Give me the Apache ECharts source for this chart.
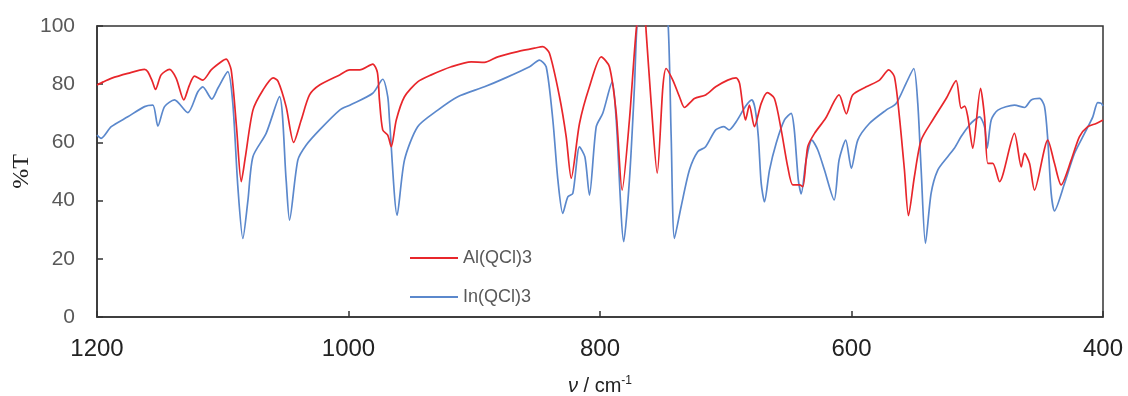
<!DOCTYPE html>
<html>
<head>
<meta charset="utf-8">
<script src="https://cdn.jsdelivr.net/npm/echarts@6/dist/echarts.min.js"></script>
<style>
  html, body { margin: 0; padding: 0; background: #fff; }
  #chart { width: 1128px; height: 396px; }
</style>
</head>
<body>
<div id="chart"></div>
<script>
// IR spectra (transmittance vs wavenumber) of Al(QCl)3 and In(QCl)3
const seriesNames = ['Al(QCl)3', 'In(QCl)3'];

const alWavenumber = [1200, 1195, 1188.7, 1175.5, 1162.2, 1159.6, 1156, 1153.5, 1149, 1142.4, 1137, 1131, 1126.5, 1122.5, 1115.9, 1109.2, 1101.2, 1097.3, 1093.3, 1089, 1085.3, 1082, 1076, 1068, 1060, 1056, 1049.6, 1043.6, 1037.6, 1031, 1023, 1007, 999, 991, 980.7, 977, 975.4, 972.8, 968.8, 966, 962, 955.5, 945, 934.2, 918.3, 902.4, 891.9, 881.3, 865.4, 852, 845.5, 840.2, 832.2, 826.9, 822.9, 816.3, 808.4, 799, 792.5, 787.1, 782.4, 776.6, 771.2, 768, 765, 763.3, 759.3, 754.5, 750, 747.4, 742.1, 736.8, 732.8, 724.9, 716, 708, 698.4, 691.7, 689, 686.4, 684.3, 681.2, 677.2, 671.8, 667, 661.3, 655.9, 650.7, 646.7, 641.4, 638.7, 634.8, 629.4, 620.6, 609.9, 604.1, 599.1, 588.3, 577.7, 570.4, 565.9, 561.9, 557.9, 554.7, 550, 544.6, 535.4, 524.7, 516.8, 512.8, 510, 507.5, 503.6, 497.4, 494.2, 491.6, 487.6, 482.3, 470.4, 465, 462.4, 458.4, 454.5, 443.9, 438.6, 433.3, 425.3, 418.7, 412.1, 405.4, 400];
const alTransmittance = [79.7, 80.8, 82, 83.7, 85.1, 84.3, 81, 78.2, 83.2, 85.1, 82, 74.6, 79.7, 82.8, 81.4, 84.9, 87.7, 88.6, 84.9, 65, 46.5, 55, 71.1, 78, 82.2, 81, 72.3, 60, 67.7, 76.3, 79.7, 83.2, 84.9, 84.9, 86.9, 84, 74.6, 64.3, 62.5, 58.5, 67.7, 75.7, 80.8, 83.2, 86, 87.7, 87.5, 89.4, 91.2, 92.4, 92.9, 90.6, 75.7, 62, 47.7, 66.5, 79.1, 89.4, 86, 70, 43.6, 67.7, 98.6, 106, 106, 98, 73.4, 49.4, 79.1, 85.4, 81.4, 75.7, 72, 75.1, 76.3, 79.1, 81.4, 82.2, 80.3, 72.3, 67.7, 72.8, 65.4, 73.4, 77.1, 75.1, 64.3, 51.6, 45.4, 45.4, 44.8, 58.5, 63.1, 68.3, 76.3, 69.8, 76.3, 79.1, 81.4, 84.9, 82.6, 68.8, 50.5, 34.8, 48.2, 60.8, 67.7, 75.1, 81.2, 71.7, 72.5, 68.8, 58, 78.6, 68.8, 52.8, 52.8, 46.5, 63.1, 51.6, 56.2, 52.8, 43.6, 60.8, 52.8, 45.4, 53.9, 62, 65.4, 66.5, 67.7];

const inWavenumber = [1200, 1196.7, 1188.7, 1175.5, 1162.2, 1155.6, 1151.6, 1146.3, 1138.4, 1127.8, 1119.8, 1115.9, 1108.7, 1103.9, 1096, 1092, 1088, 1084, 1080, 1076, 1065.5, 1054.9, 1049.6, 1046.9, 1040.3, 1033.6, 1023, 1007, 999, 980.7, 972.8, 968.8, 967.4, 961.3, 955.5, 945, 929, 913.1, 891.9, 876, 856, 848.2, 842.8, 837.5, 833.5, 829.6, 825.6, 821.6, 816.3, 812, 808.4, 803, 797.8, 790.3, 787.1, 781.1, 776.6, 772.6, 770.8, 768, 750, 746, 743.4, 740.8, 735.5, 728.9, 722.3, 716, 708, 701.4, 697.4, 691.7, 684.4, 679.3, 676.7, 674.1, 671.8, 669.2, 665.2, 659.9, 653.3, 648, 645.5, 642.3, 640, 636.1, 631.5, 626.8, 621.5, 613.8, 609.9, 604.6, 600.1, 595, 585.8, 572.5, 564.5, 556.6, 550.5, 547.3, 544.6, 541.2, 536.7, 531.4, 523.5, 518.2, 512.8, 506.2, 502.2, 498.2, 494.2, 492.1, 488.9, 483.6, 470.4, 462.4, 457.1, 450.4, 446.5, 443.9, 441.2, 438.6, 430.6, 422.7, 414.7, 408.1, 404.2, 401.4, 400];
const inTransmittance = [62.5, 61.4, 65.4, 68.8, 72.3, 72.8, 65.6, 72.3, 74.6, 70.2, 77.4, 79.1, 74.9, 78.6, 84.3, 73.4, 44.8, 27, 40, 55.1, 63.1, 75.7, 47.1, 33.3, 53.9, 59.1, 64.3, 71.1, 72.8, 76.9, 81.7, 75.7, 67.7, 35, 53.9, 65.4, 71.1, 75.7, 79.1, 82, 86, 88.3, 86, 67.7, 47.1, 35.6, 41.3, 42.5, 58.5, 55, 41.9, 65.4, 70, 80.8, 67.7, 25.9, 47.1, 79.1, 98.6, 108, 108, 102, 62, 27, 37.9, 50.5, 56.8, 58.5, 64.3, 65.4, 64.3, 67.1, 72.3, 74.6, 71.7, 62, 45.9, 39.6, 50.5, 59.7, 67.7, 70, 64.3, 47.1, 42.3, 53.9, 60.8, 57.4, 50.5, 40.2, 53.9, 60.8, 51.1, 60.8, 66.5, 71.1, 73.4, 80.3, 85.4, 73.4, 50.5, 25.3, 42.5, 50.5, 55.1, 58, 62, 66, 67.7, 68.8, 65.4, 58, 67.7, 71.1, 72.8, 72, 74.6, 75.1, 72.3, 60.8, 42.5, 36.5, 45.9, 56.2, 63.1, 68.8, 73.7, 73.4, 72.5];

const xTicks = { min: 400, max: 1200, interval: 200 };
const yTicks = { min: 0, max: 100, interval: 20 };

const zip = (xs, ys) => xs.map((x, i) => [x, ys[i]]);

const chart = echarts.init(document.getElementById('chart'), null, { renderer: 'canvas' });

const axisColor = '#333';
const sans = '"Liberation Sans", Arial, sans-serif';

chart.setOption({
  animation: false,
  backgroundColor: '#fff',
  grid: {
    left: 97, right: 25, top: 26, bottom: 79,
    containLabel: false,
    outerBoundsMode: 'none',
    show: true, borderColor: axisColor, borderWidth: 1.5, backgroundColor: 'transparent'
  },
  legend: {
    orient: 'vertical',
    left: 405, top: 243,
    icon: 'rect',
    itemWidth: 48, itemHeight: 2, itemGap: 19,
    textStyle: { color: '#595959', fontSize: 18, fontFamily: sans, lineHeight: 20 },
    data: seriesNames
  },
  xAxis: {
    type: 'value',
    inverse: true,
    min: xTicks.min, max: xTicks.max, interval: xTicks.interval,
    axisLine: { show: true, lineStyle: { color: axisColor, width: 1.5 } },
    axisTick: { show: true, inside: true, length: 6, lineStyle: { color: axisColor, width: 1.5 } },
    splitLine: { show: false },
    axisLabel: {
      color: '#222', fontSize: 24, fontFamily: sans, margin: 20,
      showMinLabel: true, showMaxLabel: true,
      formatter: v => String(v)
    },
    name: '{i|ν} / cm{s|-1}',
    nameLocation: 'middle',
    nameGap: 58,
    nameTextStyle: {
      color: '#222', fontSize: 20, fontFamily: sans,
      rich: {
        i: { fontStyle: 'italic', fontSize: 20, fontFamily: sans, color: '#222' },
        s: { fontSize: 12, verticalAlign: 'top', padding: [0, 0, 10, 0], fontFamily: sans, color: '#222' }
      }
    }
  },
  yAxis: {
    type: 'value',
    min: yTicks.min, max: yTicks.max, interval: yTicks.interval,
    axisLine: { show: true, lineStyle: { color: axisColor, width: 1.5 } },
    axisTick: { show: true, inside: true, length: 6, lineStyle: { color: axisColor, width: 1.5 } },
    splitLine: { show: false },
    axisLabel: { color: '#595959', fontSize: 21, fontFamily: sans, margin: 22 },
    name: '%T',
    nameLocation: 'middle',
    nameRotate: 90,
    nameGap: 63,
    nameMoveOverlap: false,
    nameTextStyle: { color: '#222', fontSize: 24, fontFamily: '"Liberation Serif", serif' }
  },
  series: [
    {
      name: seriesNames[0],
      type: 'line',
      data: zip(alWavenumber, alTransmittance),
      showSymbol: false, symbol: 'none',
      smooth: 0.25,
      clip: true,
      lineStyle: { color: '#E8262B', width: 1.7 },
      itemStyle: { color: '#E8262B' },
      z: 3
    },
    {
      name: seriesNames[1],
      type: 'line',
      data: zip(inWavenumber, inTransmittance),
      showSymbol: false, symbol: 'none',
      smooth: 0.25,
      clip: true,
      lineStyle: { color: '#5B88CC', width: 1.7 },
      itemStyle: { color: '#5B88CC' },
      z: 2
    }
  ]
});
</script>
</body>
</html>
